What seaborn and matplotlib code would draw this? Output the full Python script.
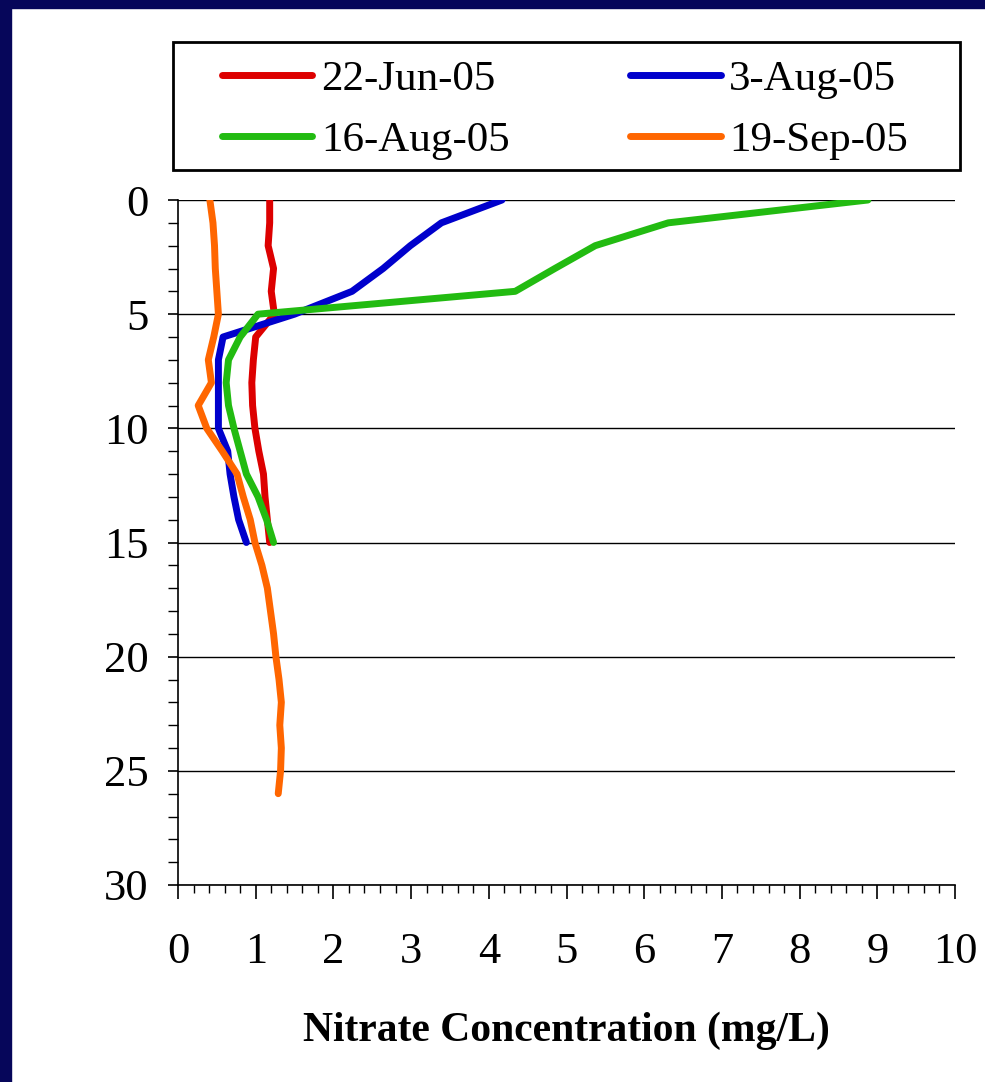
import matplotlib
matplotlib.use('Agg')
import matplotlib.pyplot as plt
from matplotlib.patches import Rectangle
from matplotlib.ticker import MultipleLocator
import pandas as pd
import seaborn as sns

# depth (m) and nitrate (mg/L) per sampling date
depth_15 = list(range(0, 16))
depth_26 = list(range(0, 27))
jun22 = [1.18, 1.18, 1.16, 1.23, 1.20, 1.24, 1.00, 0.97, 0.95, 0.96, 0.99, 1.04, 1.10, 1.12, 1.15, 1.18]
aug03 = [4.17, 3.39, 2.99, 2.64, 2.24, 1.50, 0.58, 0.52, 0.52, 0.52, 0.52, 0.64, 0.67, 0.72, 0.78, 0.88]
aug16 = [8.88, 6.31, 5.37, 4.85, 4.34, 1.03, 0.80, 0.65, 0.62, 0.65, 0.72, 0.80, 0.88, 1.03, 1.14, 1.23]
sep19 = [0.41, 0.45, 0.47, 0.48, 0.50, 0.52, 0.46, 0.39, 0.43, 0.26, 0.37, 0.57, 0.76, 0.84, 0.93,
         0.99, 1.08, 1.15, 1.19, 1.23, 1.26, 1.30, 1.33, 1.31, 1.33, 1.32, 1.29]

dates = ['22-Jun-05', '3-Aug-05', '16-Aug-05', '19-Sep-05']
colors = ['#dd0000', '#0000cc', '#22bb11', '#ff6600']

frames = []
for name, dep, vals in zip(dates, [depth_15, depth_15, depth_15, depth_26], [jun22, aug03, aug16, sep19]):
    frames.append(pd.DataFrame({'depth': dep, 'nitrate': vals, 'date': name}))
df = pd.concat(frames, ignore_index=True)

sns.set_theme(style='white')
plt.rcParams['font.family'] = ['Liberation Serif', 'DejaVu Serif']

fig = plt.figure(figsize=(9.85, 10.82), dpi=100)
fig.patch.set_facecolor('white')
ax = fig.add_axes([178 / 985, 1 - 885 / 1082, (955 - 178) / 985, (885 - 200) / 1082])

sns.lineplot(data=df, x='nitrate', y='depth', hue='date', hue_order=dates,
             palette=colors, orient='y', sort=False, linewidth=5, ax=ax,
             solid_capstyle='round', solid_joinstyle='round')

ax.set_xlim(0, 10)
ax.set_ylim(30, 0)
ax.xaxis.set_major_locator(MultipleLocator(1))
ax.xaxis.set_minor_locator(MultipleLocator(0.2))
ax.yaxis.set_major_locator(MultipleLocator(5))
ax.yaxis.set_minor_locator(MultipleLocator(1))
ax.grid(True, axis='y', which='major', color='black', linewidth=1)
ax.grid(False, axis='x')
for side in ['top', 'right']:
    ax.spines[side].set_visible(False)
for side in ['left', 'bottom']:
    ax.spines[side].set_color('black')
    ax.spines[side].set_linewidth(1.2)
ax.tick_params(axis='x', which='major', direction='out', length=10, width=1.2, color='black',
               bottom=True, labelsize=32, pad=24)
ax.tick_params(axis='x', which='minor', direction='out', length=6, width=1, color='black', bottom=True)
ax.tick_params(axis='y', which='major', direction='out', length=7, width=1.2, color='black',
               left=True, labelsize=32, pad=14)
ax.tick_params(axis='y', which='minor', direction='out', length=7, width=1, color='black', left=True)
for lab in ax.get_xticklabels() + ax.get_yticklabels():
    lab.set_color('black')

ax.set_ylabel('')
ax.set_xlabel('Nitrate Concentration (mg/L)', fontsize=30, fontweight='bold', color='black', labelpad=28)

# legend filled row by row: 22-Jun | 3-Aug / 16-Aug | 19-Sep
handles, labels = ax.get_legend_handles_labels()
ax.get_legend().remove()
order = [0, 2, 1, 3]
leg = fig.legend([handles[i] for i in order], [labels[i] for i in order],
                 loc='center', ncol=2, frameon=False, labelcolor='black',
                 bbox_to_anchor=(565 / 985, 1 - 110 / 1082),
                 fontsize=31, borderaxespad=0, borderpad=0,
                 handlelength=2.1, handletextpad=0.2, columnspacing=2.8, labelspacing=0.5)
for h in leg.get_lines():
    h.set_linewidth(5)
fig.add_artist(Rectangle((173 / 985, 1 - 170 / 1082), (960 - 173) / 985, 128 / 1082,
                         transform=fig.transFigure, fill=False, edgecolor='black', linewidth=2))

# navy frame strips
fig.add_artist(Rectangle((0, 0), 11 / 985, 1, transform=fig.transFigure, color='#06065a', zorder=10))
fig.add_artist(Rectangle((0, 1 - 8 / 1082), 1, 8 / 1082, transform=fig.transFigure, color='#06065a', zorder=10))

fig.savefig('out.png', dpi=100)
